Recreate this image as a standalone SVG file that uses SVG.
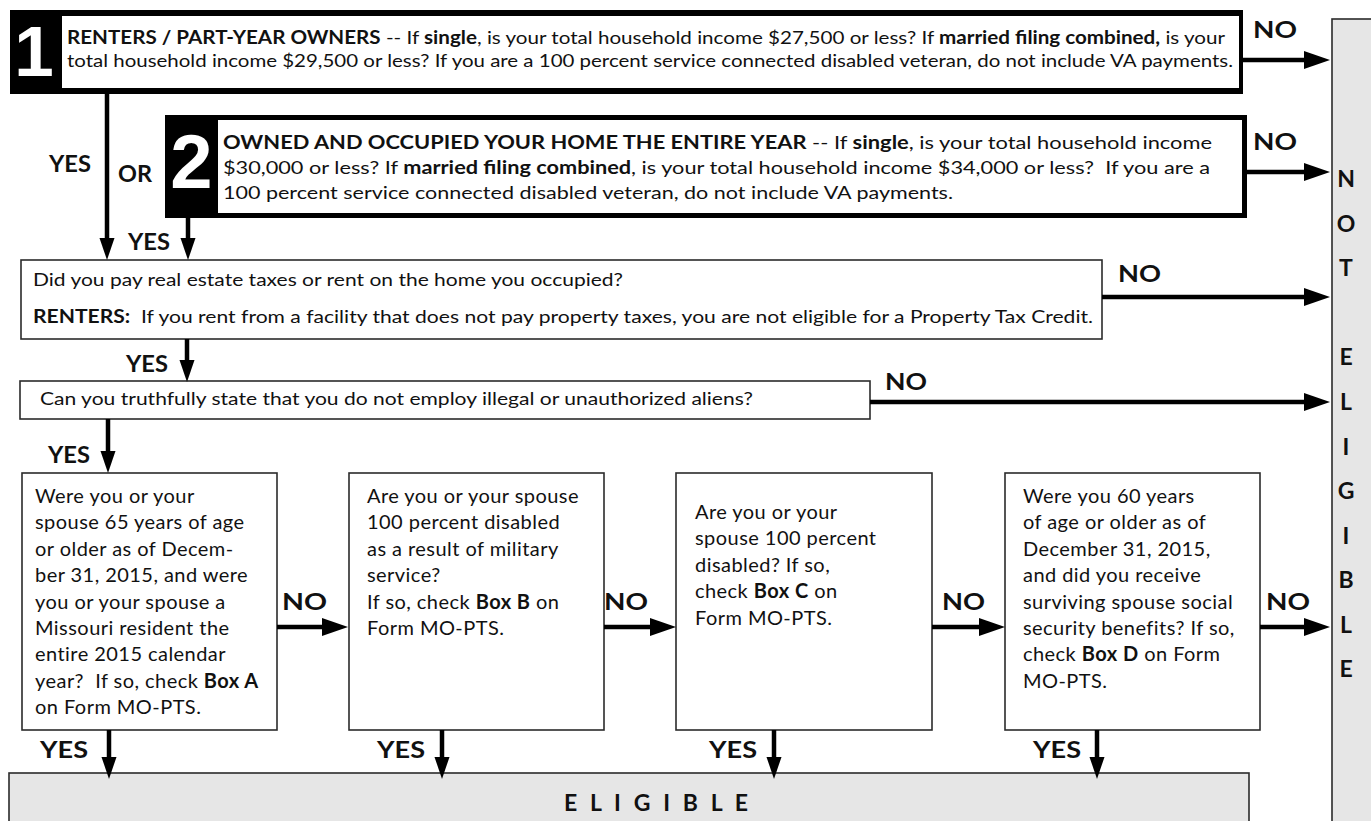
<svg xmlns="http://www.w3.org/2000/svg" width="1371" height="821" viewBox="0 0 1371 821">
<style>
.t{font-family:Lato,"Open Sans","Liberation Sans",sans-serif;font-size:18px;fill:#111}
.s{font-family:Lato,"Open Sans","Liberation Sans",sans-serif;font-size:20px;letter-spacing:0.45px;fill:#111}
.b{font-weight:700}
.lbl{font-family:Lato,"Open Sans","Liberation Sans",sans-serif;font-weight:700;font-size:23px;fill:#111;letter-spacing:0}
.num{font-family:"Liberation Sans",Arial,sans-serif;font-weight:700;fill:#fff;text-anchor:middle}
.box{fill:#fff;stroke:#2b2b2b;stroke-width:1.6}
.gray{fill:#e6e6e6;stroke:#2b2b2b;stroke-width:1.6}
.ne{text-anchor:middle}
#connectors line{stroke:#000;stroke-width:4.5}
.h{marker-end:url(#ah)}
.v{marker-end:url(#av)}
</style>
<defs>
<marker id="ah" markerUnits="userSpaceOnUse" viewBox="0 0 27 20" markerWidth="27" markerHeight="20" refX="0" refY="10" orient="auto"><path d="M0,1 L26,10 L0,19 z" fill="#000"/></marker>
<marker id="av" markerUnits="userSpaceOnUse" viewBox="0 0 23 16" markerWidth="23" markerHeight="16" refX="0" refY="8" orient="auto"><path d="M0,0.5 L22,8 L0,15.5 z" fill="#000"/></marker>
</defs>
<rect width="1371" height="821" fill="#fff"/>

<g id="not-eligible">
<rect class="gray" x="1332" y="19" width="50" height="810"/>
<text class="lbl ne" x="1346" y="187">N</text>
<text class="lbl ne" x="1346" y="232">O</text>
<text class="lbl ne" x="1346" y="276">T</text>
<text class="lbl ne" x="1346" y="365">E</text>
<text class="lbl ne" x="1346" y="410">L</text>
<text class="lbl ne" x="1346" y="455">I</text>
<text class="lbl ne" x="1346" y="499">G</text>
<text class="lbl ne" x="1346" y="544">I</text>
<text class="lbl ne" x="1346" y="588">B</text>
<text class="lbl ne" x="1346" y="633">L</text>
<text class="lbl ne" x="1346" y="677">E</text>
</g>

<g id="eligible">
<rect class="gray" x="9" y="773" width="1240" height="52"/>
<text class="lbl" x="564" y="811" textLength="184" lengthAdjust="spacing">E L I G I B L E</text>
</g>

<g id="box1">
<rect x="10" y="10" width="1233" height="84" fill="#000"/>
<rect x="62" y="16" width="1177" height="72" fill="#fff"/>
<text class="num" x="34" y="76" font-size="71">1</text>
<text class="t" x="67" y="44" textLength="1158" lengthAdjust="spacingAndGlyphs"><tspan class="b">RENTERS / PART-YEAR OWNERS</tspan> -- If <tspan class="b">single</tspan>, is your total household income $27,500 or less? If <tspan class="b">married filing combined,</tspan> is your</text>
<text class="t" x="67" y="67" textLength="1166" lengthAdjust="spacingAndGlyphs">total household income $29,500 or less? If you are a 100 percent service connected disabled veteran, do not include VA payments.</text>
</g>

<g id="box2">
<rect x="165" y="115" width="1082" height="103" fill="#000"/>
<rect x="218" y="120" width="1024" height="93" fill="#fff"/>
<text class="num" x="191.5" y="188" font-size="76">2</text>
<text class="t" x="223" y="149" textLength="989" lengthAdjust="spacingAndGlyphs"><tspan class="b">OWNED AND OCCUPIED YOUR HOME THE ENTIRE YEAR</tspan> -- If <tspan class="b">single</tspan>, is your total household income</text>
<text class="t" x="223" y="174" textLength="987" lengthAdjust="spacingAndGlyphs">$30,000 or less? If <tspan class="b">married filing combined</tspan>, is your total household income $34,000 or less?&#160; If you are a</text>
<text class="t" x="223" y="199" textLength="730" lengthAdjust="spacingAndGlyphs">100 percent service connected disabled veteran, do not include VA payments.</text>
</g>

<g id="box3">
<rect class="box" x="21" y="260" width="1081" height="79"/>
<text class="t" x="33" y="286" textLength="590" lengthAdjust="spacingAndGlyphs">Did you pay real estate taxes or rent on the home you occupied?</text>
<text class="t" x="33" y="323" textLength="1060" lengthAdjust="spacingAndGlyphs"><tspan class="b">RENTERS:</tspan>&#160; If you rent from a facility that does not pay property taxes, you are not eligible for a Property Tax Credit.</text>
</g>

<g id="box4">
<rect class="box" x="20" y="381" width="850" height="38"/>
<text class="t" x="40" y="405" textLength="713" lengthAdjust="spacingAndGlyphs">Can you truthfully state that you do not employ illegal or unauthorized aliens?</text>
</g>

<g id="boxA">
<rect class="box" x="22" y="473" width="255" height="257"/>
<text class="s" x="35" y="503">Were you or your</text>
<text class="s" x="35" y="529">spouse 65 years of age</text>
<text class="s" x="35" y="556">or older as of Decem-</text>
<text class="s" x="35" y="582">ber 31, 2015, and were</text>
<text class="s" x="35" y="609">you or your spouse a</text>
<text class="s" x="35" y="635">Missouri resident the</text>
<text class="s" x="35" y="661">entire 2015 calendar</text>
<text class="s" x="35" y="688">year?&#160; If so, check <tspan class="b">Box A</tspan></text>
<text class="s" x="35" y="714">on Form MO-PTS.</text>
</g>

<g id="boxB">
<rect class="box" x="349" y="473" width="255" height="257"/>
<text class="s" x="367" y="503">Are you or your spouse</text>
<text class="s" x="367" y="529">100 percent disabled</text>
<text class="s" x="367" y="556">as a result of military</text>
<text class="s" x="367" y="582">service?</text>
<text class="s" x="367" y="609">If so, check <tspan class="b">Box B</tspan> on</text>
<text class="s" x="367" y="635">Form MO-PTS.</text>
</g>

<g id="boxC">
<rect class="box" x="676" y="473" width="256" height="257"/>
<text class="s" x="695" y="519">Are you or your</text>
<text class="s" x="695" y="545">spouse 100 percent</text>
<text class="s" x="695" y="572">disabled? If so,</text>
<text class="s" x="695" y="598">check <tspan class="b">Box C</tspan> on</text>
<text class="s" x="695" y="625">Form MO-PTS.</text>
</g>

<g id="boxD">
<rect class="box" x="1005" y="473" width="255" height="257"/>
<text class="s" x="1023" y="503">Were you 60 years</text>
<text class="s" x="1023" y="529">of age or older as of</text>
<text class="s" x="1023" y="556">December 31, 2015,</text>
<text class="s" x="1023" y="582">and did you receive</text>
<text class="s" x="1023" y="609">surviving spouse social</text>
<text class="s" x="1023" y="635">security benefits? If so,</text>
<text class="s" x="1023" y="661">check <tspan class="b">Box D</tspan> on Form</text>
<text class="s" x="1023" y="688">MO-PTS.</text>
</g>

<g id="connectors">
<line class="h" x1="1243" y1="60" x2="1304" y2="60"/>
<line class="h" x1="1247" y1="172" x2="1304" y2="172"/>
<line class="h" x1="1102" y1="297" x2="1304" y2="297"/>
<line class="h" x1="870" y1="402" x2="1304" y2="402"/>
<line class="h" x1="277" y1="627" x2="322" y2="627"/>
<line class="h" x1="604" y1="627" x2="650" y2="627"/>
<line class="h" x1="932" y1="627" x2="979" y2="627"/>
<line class="h" x1="1260" y1="627" x2="1304" y2="627"/>
<line class="v" x1="107" y1="94" x2="107" y2="238"/>
<line class="v" x1="188" y1="218" x2="188" y2="238"/>
<line class="v" x1="187" y1="339" x2="187" y2="360"/>
<line class="v" x1="108" y1="419" x2="108" y2="451"/>
<line class="v" x1="109" y1="730" x2="109" y2="757"/>
<line class="v" x1="442" y1="730" x2="442" y2="757"/>
<line class="v" x1="774" y1="730" x2="774" y2="757"/>
<line class="v" x1="1097" y1="730" x2="1097" y2="757"/>
<text class="lbl" x="1253" y="38" textLength="44" lengthAdjust="spacingAndGlyphs">NO</text>
<text class="lbl" x="1253" y="150" textLength="44" lengthAdjust="spacingAndGlyphs">NO</text>
<text class="lbl" x="1118" y="282" textLength="43" lengthAdjust="spacingAndGlyphs">NO</text>
<text class="lbl" x="885" y="390" textLength="42" lengthAdjust="spacingAndGlyphs">NO</text>
<text class="lbl" x="282" y="610" textLength="45" lengthAdjust="spacingAndGlyphs">NO</text>
<text class="lbl" x="604" y="610" textLength="44" lengthAdjust="spacingAndGlyphs">NO</text>
<text class="lbl" x="942" y="610" textLength="43" lengthAdjust="spacingAndGlyphs">NO</text>
<text class="lbl" x="1266" y="610" textLength="44" lengthAdjust="spacingAndGlyphs">NO</text>
<text class="lbl" x="49" y="172" textLength="42" lengthAdjust="spacingAndGlyphs">YES</text>
<text class="lbl" x="118" y="182" textLength="34" lengthAdjust="spacingAndGlyphs">OR</text>
<text class="lbl" x="128" y="250" textLength="42" lengthAdjust="spacingAndGlyphs">YES</text>
<text class="lbl" x="126" y="372" textLength="42" lengthAdjust="spacingAndGlyphs">YES</text>
<text class="lbl" x="48" y="463" textLength="42" lengthAdjust="spacingAndGlyphs">YES</text>
<text class="lbl" x="40" y="758" textLength="48" lengthAdjust="spacingAndGlyphs">YES</text>
<text class="lbl" x="377" y="758" textLength="48" lengthAdjust="spacingAndGlyphs">YES</text>
<text class="lbl" x="709" y="758" textLength="48" lengthAdjust="spacingAndGlyphs">YES</text>
<text class="lbl" x="1033" y="758" textLength="48" lengthAdjust="spacingAndGlyphs">YES</text>
</g>
</svg>
